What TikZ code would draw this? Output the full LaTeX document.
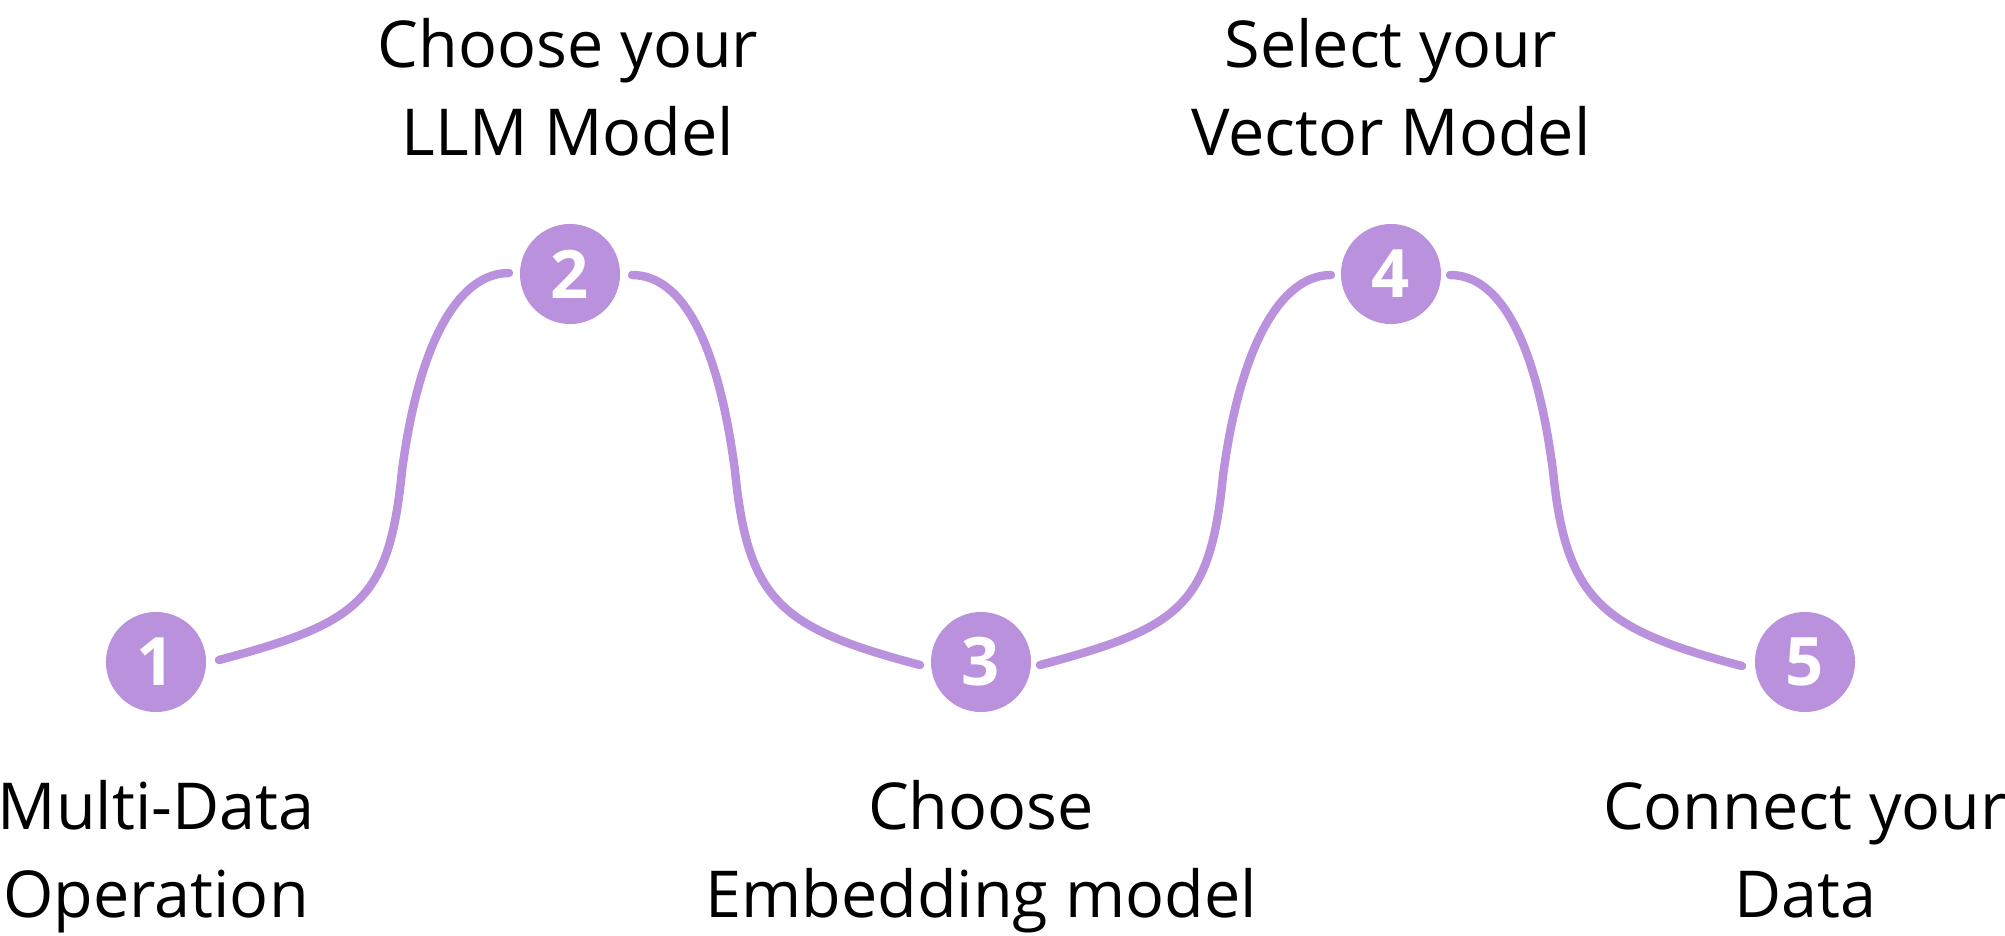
\documentclass[tikz,border=0pt]{standalone}
\usepackage{fontspec}
\setmainfont{Open Sans}
\usetikzlibrary{positioning,calc}
\definecolor{lilac}{HTML}{B991DC}

\begin{document}
\begin{tikzpicture}[x=0.01cm,y=-0.01cm,
    stepdot/.style={circle,fill=lilac,minimum size=1cm,inner sep=0,
        text=white,font=\bfseries\fontsize{19pt}{19pt}\selectfont},
    lbl/.style={align=center,anchor=base,inner sep=0,
        font=\fontsize{18.4pt}{25pt}\selectfont},
    wire/.style={draw=lilac,line width=2.4pt,line cap=round}]
\useasboundingbox (0,0) rectangle (2005,936);

\node[stepdot] (s1) at (156,662) {1};
\node[stepdot] (s2) at (570,274) {2};
\node[stepdot] (s3) at (981,662) {3};
\node[stepdot] (s4) at (1391,274) {4};
\node[stepdot] (s5) at (1805,662) {5};

\node[lbl] (t1) at (156,917) {Multi-Data\\Operation};
\node[lbl] (t2) at (568,155) {Choose your\\LLM Model};
\node[lbl] (t3) at (981,917) {Choose\\Embedding model};
\node[lbl] (t4) at (1391,155) {Select your\\Vector Model};
\node[lbl] (t5) at (1805,917) {Connect your\\Data};

% loose ends of the wavy line
\coordinate (e1r) at ($(s1)+(63,-2)$);
\coordinate (e2l) at ($(s2)+(-61,-1)$);
\coordinate (e2r) at ($(s2)+(62,1)$);
\coordinate (e3l) at ($(s3)+(-61,3)$);
\coordinate (e3r) at ($(s3)+(59,3)$);
\coordinate (e4l) at ($(s4)+(-60,1)$);
\coordinate (e4r) at ($(s4)+(59,1)$);
\coordinate (e5l) at ($(s5)+(-63,4)$);

\path[wire] (e1r) .. controls +(140,-37) and +(-13,130) .. ++(183,-189)
    .. controls +(17,-130) and +(-50,0) .. (e2l);
\path[wire] (e2r) .. controls +(50,0) and +(-17,-130) .. ++(103,196)
    .. controls +(13,130) and +(-140,-37) .. (e3l);
\path[wire] (e3r) .. controls +(140,-37) and +(-13,130) .. ++(183,-189)
    .. controls +(17,-130) and +(-50,0) .. (e4l);
\path[wire] (e4r) .. controls +(50,0) and +(-17,-130) .. ++(103,196)
    .. controls +(13,130) and +(-140,-37) .. (e5l);
\end{tikzpicture}
\end{document}
